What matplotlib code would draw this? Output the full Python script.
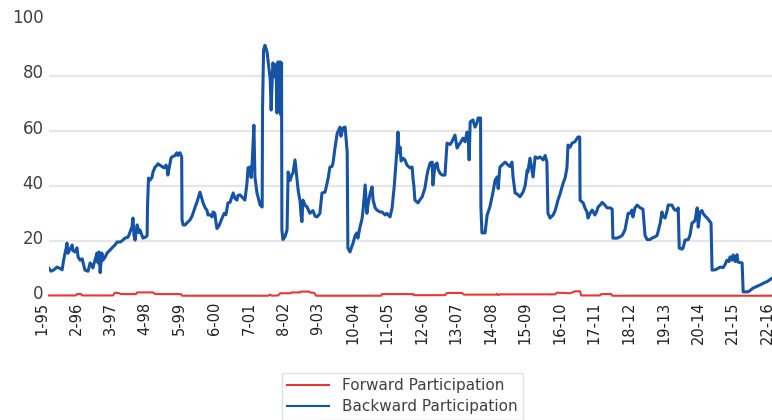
import matplotlib
matplotlib.use("Agg")
import matplotlib.pyplot as plt
import matplotlib.transforms as mtransforms

# ---------------- data ----------------
year_ticks = list(range(1995, 2017))
tick_labels = ["1-95", "2-96", "3-97", "4-98", "5-99", "6-00", "7-01", "8-02",
               "9-03", "10-04", "11-05", "12-06", "13-07", "14-08", "15-09",
               "16-10", "17-11", "18-12", "19-13", "20-14", "21-15", "22-16"]
y_ticks = [0, 20, 40, 60, 80, 100]

backward_x = [
    1995.00, 1995.06, 1995.14, 1995.23, 1995.32, 1995.38, 1995.43, 1995.49, 1995.52, 1995.55,
    1995.61, 1995.67, 1995.69, 1995.75, 1995.81, 1995.84, 1995.90, 1995.96, 1996.01, 1996.04,
    1996.13, 1996.19, 1996.24, 1996.27, 1996.33, 1996.39, 1996.42, 1996.45, 1996.48, 1996.53,
    1996.56, 1996.62, 1996.68, 1996.77, 1996.85, 1996.91, 1996.97, 1997.06, 1997.11, 1997.20,
    1997.29, 1997.34, 1997.40, 1997.43, 1997.46, 1997.49, 1997.55, 1997.60, 1997.63, 1997.69,
    1997.72, 1997.81, 1997.84, 1997.85, 1997.88, 1997.92, 1997.98, 1998.01, 1998.07, 1998.13,
    1998.15, 1998.21, 1998.27, 1998.33, 1998.39, 1998.42, 1998.44, 1998.47, 1998.53, 1998.56,
    1998.65, 1998.70, 1998.73, 1998.79, 1998.84, 1998.85, 1998.88, 1998.94, 1998.99, 1999.08,
    1999.14, 1999.23, 1999.28, 1999.37, 1999.43, 1999.46, 1999.52, 1999.57, 1999.60, 1999.66,
    1999.72, 1999.75, 1999.80, 1999.83, 1999.86, 1999.92, 2000.01, 2000.07, 2000.12, 2000.18,
    2000.24, 2000.33, 2000.38, 2000.44, 2000.47, 2000.53, 2000.62, 2000.67, 2000.73, 2000.76,
    2000.82, 2000.85, 2000.88, 2000.90, 2000.93, 2000.96, 2001.02, 2001.11, 2001.17, 2001.18,
    2001.21, 2001.25, 2001.31, 2001.37, 2001.40, 2001.43, 2001.45, 2001.48, 2001.54, 2001.57,
    2001.60, 2001.63, 2001.66, 2001.69, 2001.71, 2001.73, 2001.74, 2001.77, 2001.83, 2001.89,
    2001.92, 2001.98, 2002.03, 2002.06, 2002.12, 2002.18, 2002.21, 2002.27, 2002.29, 2002.32,
    2002.35, 2002.41, 2002.47, 2002.55, 2002.64, 2002.70, 2002.76, 2002.84, 2002.90, 2002.99,
    2003.08, 2003.13, 2003.19, 2003.22, 2003.28, 2003.34, 2003.42, 2003.45, 2003.51, 2003.57,
    2003.63, 2003.65, 2003.71, 2003.80, 2003.86, 2003.91, 2003.94, 2004.00, 2004.06, 2004.09,
    2004.15, 2004.20, 2004.23, 2004.29, 2004.35, 2004.38, 2004.44, 2004.49, 2004.58, 2004.64,
    2004.73, 2004.78, 2004.87, 2004.93, 2004.99, 2005.07, 2005.10, 2005.13, 2005.16, 2005.19,
    2005.25, 2005.30, 2005.36, 2005.45, 2005.51, 2005.54, 2005.56, 2005.59, 2005.68, 2005.74,
    2005.80, 2005.88, 2005.94, 2005.97, 2006.03, 2006.09, 2006.11, 2006.17, 2006.23, 2006.26,
    2006.32, 2006.38, 2006.46, 2006.52, 2006.61, 2006.66, 2006.75, 2006.81, 2006.87, 2006.90,
    2006.98, 2007.04, 2007.10, 2007.13, 2007.16, 2007.19, 2007.27, 2007.33, 2007.39, 2007.42,
    2007.49, 2007.50, 2007.53, 2007.62, 2007.68, 2007.76, 2007.85, 2007.91, 2007.97, 2008.00,
    2008.05, 2008.11, 2008.20, 2008.29, 2008.34, 2008.40, 2008.43, 2008.49, 2008.55, 2008.63,
    2008.72, 2008.78, 2008.84, 2008.86, 2008.92, 2009.01, 2009.07, 2009.15, 2009.21, 2009.30,
    2009.36, 2009.41, 2009.44, 2009.50, 2009.59, 2009.65, 2009.73, 2009.79, 2009.88, 2009.94,
    2009.99, 2010.02, 2010.08, 2010.14, 2010.22, 2010.31, 2010.36, 2010.37, 2010.46, 2010.51,
    2010.57, 2010.60, 2010.66, 2010.72, 2010.80, 2010.86, 2010.89, 2010.95, 2011.01, 2011.09,
    2011.15, 2011.24, 2011.30, 2011.32, 2011.44, 2011.53, 2011.59, 2011.67, 2011.76, 2011.82,
    2011.87, 2011.90, 2011.96, 2012.02, 2012.11, 2012.19, 2012.25, 2012.31, 2012.40, 2012.45,
    2012.54, 2012.60, 2012.69, 2012.74, 2012.77, 2012.83, 2012.89, 2012.92, 2012.97, 2013.03,
    2013.09, 2013.12, 2013.18, 2013.21, 2013.24, 2013.32, 2013.35, 2013.41, 2013.50, 2013.55,
    2013.61, 2013.67, 2013.70, 2013.76, 2013.79, 2013.84, 2013.90, 2013.93, 2013.99, 2014.05,
    2014.13, 2014.16, 2014.19, 2014.28, 2014.36, 2014.42, 2014.51, 2014.57, 2014.62, 2014.68,
    2014.71, 2014.77, 2014.80, 2014.86, 2014.91, 2014.94, 2015.06, 2015.09, 2015.23, 2015.29,
    2015.38, 2015.49, 2015.58, 2015.70, 2015.78, 2015.93]

backward_y = [
    10.0, 9.0, 9.5, 10.5, 10.0, 9.5, 13.5, 17.0, 19.2, 15.5,
    17.0, 18.5, 16.5, 16.0, 17.5, 14.2, 13.0, 13.5, 11.0, 9.4,
    9.0, 12.0, 11.0, 10.2, 13.0, 15.6, 12.0, 16.0, 8.5, 15.6,
    13.0, 14.0, 15.6, 16.7, 17.8, 18.5, 19.6, 19.6, 20.0, 21.0,
    21.4, 23.0, 25.0, 28.3, 22.0, 20.3, 25.8, 23.0, 24.0, 22.0,
    21.0, 21.5, 22.0, 32.0, 42.8, 42.0, 43.0, 45.0, 46.8, 47.5,
    48.0, 47.5, 47.0, 46.5, 47.5, 46.0, 43.9, 46.0, 50.0, 50.5,
    51.0, 52.0, 51.0, 52.0, 50.5, 27.6, 25.8, 25.8, 26.5, 27.6,
    29.0, 32.3, 34.0, 37.7, 35.0, 33.8, 32.0, 31.2, 29.4, 29.5,
    28.7, 30.5, 30.0, 27.0, 24.5, 25.5, 28.3, 30.0, 29.5, 33.8,
    34.0, 37.4, 35.5, 34.8, 36.5, 36.7, 35.5, 34.8, 41.0, 46.5,
    46.8, 43.0, 48.3, 54.0, 62.0, 43.2, 37.4, 33.0, 32.3, 68.2,
    89.3, 91.0, 88.6, 82.0, 79.0, 67.5, 75.0, 84.6, 79.5, 84.0,
    66.4, 85.0, 73.0, 85.0, 65.7, 84.6, 24.0, 20.5, 21.5, 24.0,
    45.0, 42.0, 44.0, 44.6, 49.4, 42.0, 38.5, 34.0, 30.0, 27.0,
    34.8, 33.0, 32.3, 30.0, 31.0, 29.0, 28.7, 30.0, 37.4, 37.7,
    42.8, 46.8, 47.0, 48.3, 54.0, 59.0, 61.3, 58.0, 61.0, 61.3,
    52.3, 17.4, 16.0, 19.2, 22.0, 22.9, 21.0, 25.0, 28.0, 31.2,
    40.3, 30.0, 33.0, 37.0, 39.6, 34.8, 32.0, 31.2, 30.5, 30.5,
    29.4, 30.0, 28.7, 32.0, 39.6, 53.0, 59.5, 52.0, 54.0, 49.0,
    50.0, 49.4, 47.5, 46.5, 46.8, 42.0, 40.0, 34.8, 33.8, 35.0,
    36.0, 39.2, 43.9, 45.7, 48.3, 48.6, 40.3, 47.5, 48.3, 46.0,
    44.5, 43.9, 43.9, 55.5, 55.0, 56.0, 58.4, 53.7, 55.0, 55.5,
    57.3, 56.0, 59.5, 58.0, 49.4, 63.2, 63.9, 61.3, 63.0, 64.6,
    64.6, 32.3, 22.9, 22.9, 29.4, 32.3, 37.7, 42.0, 43.2, 39.0,
    46.8, 47.5, 48.6, 47.5, 47.0, 48.6, 43.2, 37.4, 37.0, 36.0,
    37.7, 40.0, 45.7, 45.0, 50.0, 43.2, 50.5, 50.0, 50.5, 49.4,
    51.0, 48.6, 30.0, 28.3, 29.4, 31.0, 34.8, 37.0, 41.0, 43.0,
    46.5, 54.8, 54.0, 55.5, 56.0, 57.7, 57.7, 34.8, 33.8, 32.0,
    30.5, 28.3, 30.0, 31.2, 29.4, 31.0, 32.3, 33.0, 34.0, 33.0,
    32.0, 32.0, 31.5, 21.0, 21.0, 21.5, 22.0, 24.0, 30.0, 30.0,
    31.2, 28.7, 32.0, 33.0, 32.0, 31.5, 22.0, 20.5, 20.5, 21.0,
    21.5, 22.0, 26.5, 30.5, 29.0, 28.3, 31.0, 33.0, 33.0, 33.0,
    31.5, 31.2, 31.0, 32.0, 17.4, 17.0, 17.4, 20.3, 20.5, 22.0,
    26.5, 27.0, 27.6, 32.0, 25.0, 30.5, 31.0, 30.0, 29.0, 28.3,
    27.0, 26.5, 9.4, 9.5, 10.0, 10.5, 10.3, 11.5, 13.0, 12.5,
    14.2, 13.0, 14.9, 12.5, 15.0, 12.3, 12.0, 1.5, 1.5, 2.0,
    2.9, 3.5, 4.0, 4.8, 5.2, 6.5]

forward_x = [
    1995.00, 1995.78, 1995.81, 1995.93, 1995.96, 1996.85, 1996.91, 1997.03, 1997.08, 1997.52,
    1997.55, 1998.01, 1998.07, 1998.82, 1998.85, 2001.34, 2001.40, 2001.45, 2001.63, 2001.69,
    2001.98, 2002.03, 2002.27, 2002.29, 2002.53, 2002.58, 2002.67, 2002.73, 2004.61, 2004.64,
    2005.54, 2005.56, 2006.46, 2006.52, 2006.95, 2007.01, 2007.94, 2007.97, 2008.00, 2008.05,
    2009.65, 2009.70, 2010.08, 2010.22, 2010.37, 2010.40, 2010.95, 2010.98, 2011.27, 2011.30,
    2015.93]
forward_y = [
    0.2, 0.2, 0.7, 0.7, 0.2, 0.2, 1.2, 1.0, 0.7, 0.7,
    1.3, 1.3, 0.7, 0.7, 0.1, 0.1, 0.5, 0.1, 0.2, 1.0,
    1.0, 1.3, 1.3, 1.6, 1.6, 1.2, 1.2, 0.1, 0.1, 0.7,
    0.7, 0.3, 0.3, 1.1, 1.1, 0.5, 0.5, 0.8, 0.3, 0.6,
    0.6, 1.2, 1.0, 1.7, 1.7, 0.2, 0.2, 0.7, 0.7, 0.1,
    0.1]

series_names = ["Forward Participation", "Backward Participation"]

# ---------------- style ----------------
plt.rcParams['font.family'] = ['DejaVu Sans']
BLUE = '#1553a6'
RED = '#f03434'
GRID = '#e6e6e6'
TEXT = '#404040'

fig = plt.figure(figsize=(7.72, 4.2), dpi=100)
ax = fig.add_axes([49 / 772, 1 - 296 / 420, 725.6 / 772, 275.5 / 420])

ax.plot(forward_x, forward_y, color=RED, lw=1.5, label=series_names[0],
        clip_on=False, zorder=3)
ax.plot(backward_x, backward_y, color=BLUE, lw=2.2, label=series_names[1],
        zorder=4)

ax.set_xlim(1995, 2016)
ax.set_ylim(0, 100)
ax.set_yticks(y_ticks)
ax.set_yticklabels([str(v) for v in y_ticks])
ax.set_xticks(year_ticks)
ax.set_xticklabels(tick_labels, rotation=90, ha='right', va='top')
ax.set_xticks(list(range(1997, 2016, 2)), minor=True)

for s in ax.spines.values():
    s.set_visible(False)
ax.tick_params(axis='both', which='both', length=0)
ax.tick_params(axis='x', labelsize=10.5, colors='#222222', pad=4)
ax.tick_params(axis='y', labelsize=12, colors=TEXT, pad=4)

# y labels sit slightly above their gridlines in the reference
shift = mtransforms.ScaledTranslation(0, 3 / 72, fig.dpi_scale_trans)
for lbl in ax.get_yticklabels():
    lbl.set_transform(lbl.get_transform() + shift)

ax.yaxis.grid(True, color=GRID, lw=1.6)
ax.xaxis.grid(True, which='minor', color=GRID, lw=1.6)
ax.xaxis.grid(False, which='major')
gl = ax.yaxis.get_gridlines()
gl[0].set_visible(False)
gl[-1].set_visible(False)
ax.set_axisbelow(True)

leg = fig.legend(loc='upper left', bbox_to_anchor=(282 / 772, 1 - 373 / 420),
                 frameon=True, fancybox=False, fontsize=11, handlelength=2.7,
                 handletextpad=0.85, labelspacing=0.4, borderpad=0.35,
                 edgecolor='#d9d9d9', borderaxespad=0)
leg.get_frame().set_linewidth(1.0)
for t in leg.get_texts():
    t.set_color(TEXT)
for h in leg.get_lines():
    h.set_linewidth(1.5)

fig.savefig('out.png', dpi=100)
